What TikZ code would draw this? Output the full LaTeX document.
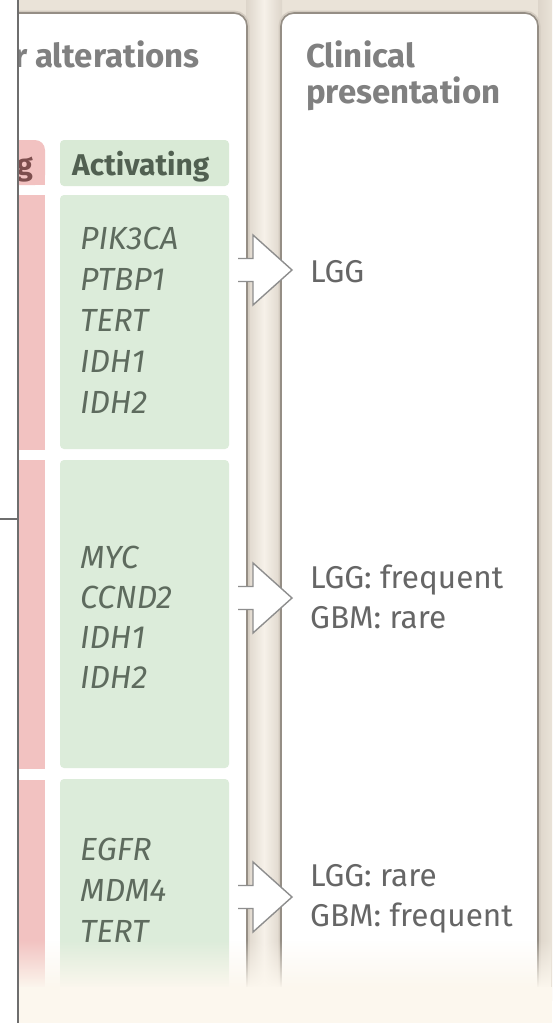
\documentclass[tikz,border=0pt]{standalone}
\usepackage{fontspec}
\setmainfont{Fira Sans}
\usetikzlibrary{fadings}
\definecolor{bgbeige}{HTML}{EAE3D8}
\definecolor{gapdark}{HTML}{DDD5CA}
\definecolor{gaplight}{HTML}{F6F1E9}
\definecolor{cream}{HTML}{FCF7EE}
\definecolor{panelgray}{HTML}{958E85}
\definecolor{shadowc}{HTML}{D3CBC0}
\definecolor{redc}{HTML}{F2C2C1}
\definecolor{greenc}{HTML}{DCECDA}
\definecolor{greenhead}{HTML}{D9EAD6}
\definecolor{headgray}{HTML}{808080}
\definecolor{actgreen}{HTML}{516051}
\definecolor{gred}{HTML}{7D4E4E}
\definecolor{genec}{HTML}{5E6B5E}
\definecolor{clinc}{HTML}{666666}
\definecolor{arrowgray}{HTML}{8E8E8E}
\definecolor{leftline}{HTML}{6E6E6E}
\tikzfading[name=fadetop, top color=transparent!100, bottom color=transparent!0]
\tikzset{
  panelfill/.style={fill=white, rounded corners=13pt},
  panelline/.style={draw=panelgray, line width=1.6pt, rounded corners=13pt},
  panelshadow/.style={draw=shadowc, line width=5pt, rounded corners=13pt},
  redbox/.style={fill=redc},
  greenbox/.style={fill=greenc, rounded corners=4pt},
  headtxt/.style={font=\bfseries\fontsize{33}{36}\selectfont, text=headgray, inner sep=0pt, anchor=base west},
  coltxt/.style={font=\bfseries\fontsize{30}{34}\selectfont, inner sep=0pt},
  genetxt/.style={font=\itshape\fontsize{32}{40}\selectfont, text=genec, inner sep=0pt, anchor=base west},
  clintxt/.style={font=\fontsize{31.5}{40}\selectfont, text=clinc, inner sep=0pt, anchor=base west},
  arrowline/.style={draw=arrowgray, line width=1.4pt, line join=miter},
  hollowarrow/.pic={
    \fill[white] (-62,-11.5) -- (-39,-11.5) -- (-39,-35) -- (0,0) -- (-39,35) -- (-39,11.5) -- (-62,11.5) -- cycle;
    \draw[arrowline] (-54,-11.5) -- (-39,-11.5) -- (-39,-35) -- (0,0) -- (-39,35) -- (-39,11.5) -- (-54,11.5);
  }
}
\begin{document}
\begin{tikzpicture}[x=1pt,y=-1pt]
\useasboundingbox (0,0) rectangle (552,1023);
\fill[white] (0,0) rectangle (552,1023);
\begin{scope}
\clip (19,0) rectangle (552,1023);
\fill[bgbeige] (19,0) rectangle (552,1023);
\shade[left color=gapdark, right color=gapdark, middle color=gaplight] (246,0) rectangle (282,1000);
\shade[left color=gapdark, right color=bgbeige] (538,0) rectangle (552,1000);
% left panel
\draw[panelshadow] (0,13) -- (247,13) -- (247,1000);
\fill[panelfill] (0,1000) -- (0,13) -- (247,13) -- (247,1000) -- cycle;
\draw[panelline] (0,13) -- (247,13) -- (247,1000);
% right panel
\draw[panelshadow] (281,1000) -- (281,13) -- (538,13) -- (538,1000);
\fill[panelfill] (281,1000) -- (281,13) -- (538,13) -- (538,1000) -- cycle;
\draw[panelline] (281,1000) -- (281,13) -- (538,13) -- (538,1000);
% red column
\fill[redc, rounded corners=10pt] (0,140) rectangle (45,185);
\fill[redc] (0,165) rectangle (45,185);
\fill[redbox] (0,195) rectangle (45,450);
\fill[redbox] (0,460) rectangle (45,769);
\fill[redbox] (0,780) rectangle (45,1000);
% green column
\fill[greenhead, rounded corners=4pt] (60,140) rectangle (229,186);
\fill[greenbox] (60,195) rectangle (229,449);
\fill[greenbox] (60,460) rectangle (229,768);
\fill[greenbox] (60,779) rectangle (229,1010);
% headings
\node[headtxt] (alt) at (35,67) {\llap{r\ }alterations};
\node[headtxt] (clin1) at (306,67) {Clinical};
\node[headtxt] (clin2) at (306,103) {presentation};
\node[coltxt, text=gred, anchor=base east] (inact) at (33,175) {g};
\node[coltxt, text=actgreen, anchor=base west] (act) at (72,175) {Activating};
% genes box 1
\node[genetxt] (g11) at (80,249) {PIK3CA};
\node[genetxt] (g12) at (80,290) {PTBP1};
\node[genetxt] (g13) at (80,331) {TERT};
\node[genetxt] (g14) at (80,372) {IDH1};
\node[genetxt] (g15) at (80,413) {IDH2};
% genes box 2
\node[genetxt] (g21) at (80,568) {MYC};
\node[genetxt] (g22) at (80,608) {CCND2};
\node[genetxt] (g23) at (80,648) {IDH1};
\node[genetxt] (g24) at (80,688) {IDH2};
% genes box 3
\node[genetxt] (g31) at (80,860) {EGFR};
\node[genetxt] (g32) at (80,901) {MDM4};
\node[genetxt] (g33) at (80,942) {TERT};
% clinical presentation
\node[clintxt] (c1) at (310,282) {LGG};
\node[clintxt] (c2a) at (310,588) {LGG: frequent};
\node[clintxt] (c2b) at (310,628) {GBM: rare};
\node[clintxt] (c3a) at (310,886) {LGG: rare};
\node[clintxt] (c3b) at (310,926) {GBM: frequent};
% arrows
\coordinate (tip1) at (292,270);
\coordinate (tip2) at (292,598);
\coordinate (tip3) at (292,897);
\pic at (tip1) {hollowarrow};
\pic at (tip2) {hollowarrow};
\pic at (tip3) {hollowarrow};
% bottom fade
\fill[cream, path fading=fadetop] (19,940) rectangle (552,988);
\fill[cream] (19,987) rectangle (552,1023);
\end{scope}
% left connector lines
\draw[leftline, line width=2pt] (18,0) -- (18,1023);
\draw[leftline, line width=1.5pt] (0,519) -- (18,519);
\end{tikzpicture}
\end{document}
